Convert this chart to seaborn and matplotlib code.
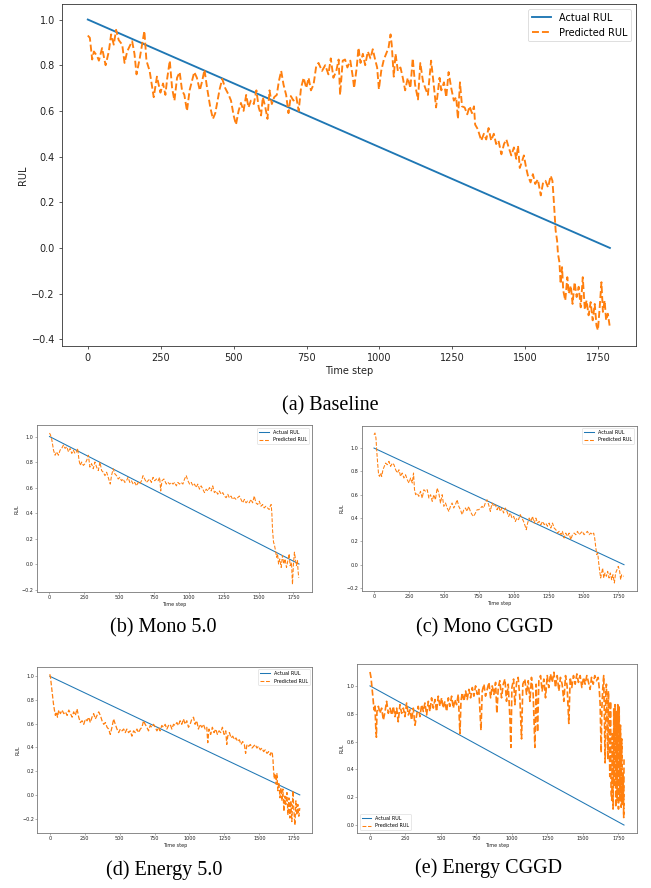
import matplotlib
matplotlib.use("Agg")
import matplotlib.pyplot as plt
from matplotlib.ticker import MultipleLocator
import seaborn as sns

# Actual RUL (straight line 1 -> 0)
actual_t = [0, 1790]
actual_rul = [1.0, 0.0]

# (a) Baseline
t_base = [0,7,15,21,32,38,49,61,72,80,89,97,106,118,126,135,146,152,160,167,178,186,194,201,212,226,237,249,258,266,
          272,281,289,297,306,315,323,331,340,349,357,365,374,384,392,400,409,420,429,437,445,452,461,471,483,491,500,508,517,525,
          534,543,551,559,569,578,586,594,600,608,616,623,631,639,648,655,663,671,680,688,696,705,715,723,731,740,749,757,765,774,
          783,791,803,814,825,833,842,852,860,865,874,882,890,900,909,913,922,928,
          935,943,951,960,969,977,985,992,998,1006,1015,1023,1031,1038,1042,1049,1055,1063,1072,1080,1088,1097,1106,1114,1122,1132,
          1140,1149,1157,1166,1177,1186,1194,1206,1212,1221,1229,1237,1246,1255,1263,1269,1276,1283,1292,1301,1309,1317,1324,1328,
          1337,1349,1358,1366,1374,1383,1392,1400,1408,1418,1427,1435,1443,1452,1461,1469,1475,1481,1489,1495,1503,1509,1518,1526,
          1534,1543,1553,1561,1569,1578,1587,1593,1597,1601,1604,1609,1612,1617,1621,1626,1630,1637,1644,1649,1656,1662,1669,1676,
          1683,1690,1697,1704,1710,1717,1724,1731,1738,1744,1749,1755,1761,1766,1772,1777,1783,1789]
pred_base = [0.93,0.92,0.825,0.86,0.84,0.82,0.875,0.80,0.86,0.935,0.89,0.955,0.91,0.89,0.81,0.86,0.89,0.905,0.85,0.76,
             0.83,0.89,0.95,0.82,0.775,0.66,0.75,0.68,0.72,0.67,0.74,0.82,0.70,0.645,0.745,0.77,0.69,0.67,0.60,0.69,
             0.73,0.77,0.745,0.69,0.73,0.78,0.70,0.615,0.565,0.59,0.645,0.695,0.74,0.70,0.67,0.645,0.58,0.54,0.60,0.635,
             0.60,0.67,0.615,0.645,0.63,0.69,0.615,0.58,0.66,0.62,0.565,0.69,0.63,0.66,0.67,0.73,0.775,0.715,0.67,0.59,
             0.665,0.645,0.66,0.60,0.70,0.745,0.70,0.745,0.69,0.715,0.795,0.81,0.775,0.80,0.76,0.83,0.745,0.775,0.825,0.67,
             0.82,0.825,0.79,0.82,0.745,0.70,0.79,0.876,
             0.81,0.85,0.80,0.86,0.83,0.87,0.825,0.79,0.695,0.775,0.825,0.85,0.876,0.935,0.89,0.75,0.85,0.775,0.79,0.745,
             0.69,0.745,0.70,0.83,0.715,0.65,0.81,0.73,0.70,0.67,0.82,0.715,0.615,0.745,0.69,0.725,0.66,0.77,0.70,0.645,
             0.66,0.565,0.725,0.62,0.615,0.585,0.62,0.59,0.62,0.54,0.52,0.47,0.50,0.475,0.525,0.47,0.50,0.455,0.47,0.41,
             0.455,0.475,0.44,0.405,0.44,0.39,0.447,0.35,0.38,0.405,0.35,0.316,0.287,0.323,0.28,0.30,0.23,0.287,0.294,0.265,
             0.316,0.294,0.22,0.134,0.076,0.032,-0.026,-0.063,-0.157,-0.084,-0.186,-0.23,-0.128,-0.20,-0.165,-0.245,-0.15,-0.215,-0.17,-0.26,
             -0.128,-0.27,-0.23,-0.295,-0.237,-0.317,-0.245,-0.34,-0.36,-0.26,-0.15,-0.28,-0.23,-0.317,-0.288,-0.34]

# (b) Mono 5.0
t_mono5 = [0,7,17,29,40,52,64,76,88,100,112,124,136,148,160,171,183,195,202,212,221,231,243,255,267,279,290,302,314,326,
           338,350,362,374,386,398,410,421,436,445,457,469,481,493,505,517,529,540,552,564,576,588,600,612,624,636,648,660,671,683,
           695,707,719,731,743,755,767,779,790,798,807,821,838,850,862,874,886,898,910,921,933,945,957,969,981,993,1005,1017,1029,1040,
           1052,1064,1076,1088,1100,1112,1124,1136,1148,1160,1171,1183,1195,1207,1219,1231,1243,1255,1267,1279,1290,1302,1314,1326,1338,1350,
           1362,1374,1386,1398,1410,1421,1433,1445,1457,1469,1481,1493,1505,1517,1529,1540,1552,1564,1576,1583,1590,1595,1600,1607,
           1614,1621,1629,1636,1643,1652,1662,1671,1681,1690,1700,1710,1719,1726,1736,1743,1750,1757,1764,1771,1779,1783,1788]
pred_mono5 = [1.027,1.013,0.973,0.893,0.853,0.88,0.853,0.893,0.907,0.933,0.907,0.92,0.88,0.907,0.867,0.893,0.867,0.88,0.907,0.813,
              0.773,0.80,0.773,0.787,0.813,0.853,0.76,0.787,0.747,0.80,0.76,0.733,0.80,0.733,0.72,0.693,0.72,0.68,0.627,0.693,
              0.747,0.707,0.693,0.667,0.68,0.653,0.667,0.64,0.653,0.68,0.64,0.653,0.627,0.64,0.613,0.64,0.627,0.653,0.693,0.667,
              0.64,0.653,0.667,0.64,0.68,0.653,0.667,0.653,0.68,0.573,0.653,0.667,0.627,0.64,0.627,0.64,0.627,0.64,0.613,0.64,
              0.627,0.64,0.627,0.667,0.693,0.653,0.627,0.64,0.613,0.627,0.60,0.627,0.587,0.613,0.587,0.56,0.587,0.573,0.60,0.573,
              0.613,0.56,0.573,0.547,0.573,0.547,0.56,0.533,0.52,0.547,0.52,0.533,0.507,0.52,0.507,0.52,0.533,0.507,0.48,0.507,
              0.48,0.493,0.48,0.507,0.48,0.533,0.48,0.467,0.493,0.453,0.467,0.44,0.453,0.44,0.427,0.453,0.467,0.40,0.267,0.173,
              0.147,0.107,0.053,0.08,0.0,0.04,-0.027,0.067,0.0,0.04,-0.027,0.027,0.08,-0.013,0.013,-0.16,0.0,0.093,0.04,-0.013,
              0.027,-0.053,-0.107]

# (c) Mono CGGD
t_monocg = [0,7,14,19,26,33,40,48,55,64,74,83,95,107,119,131,143,155,167,179,190,202,214,226,238,250,262,274,283,290,
            298,309,321,333,345,357,369,381,393,405,417,428,440,452,464,476,488,500,512,524,536,547,559,571,583,595,607,619,631,643,
            655,666,678,690,702,714,726,738,750,762,774,785,797,809,821,833,845,857,869,881,893,904,916,928,940,952,964,976,988,1000,
            1012,1023,1035,1047,1059,1071,1083,1090,1100,1111,1123,1135,1147,1159,1171,1183,1195,1207,1219,1230,1242,1254,1266,1278,1290,1302,
            1314,1326,1338,1349,1361,1373,1385,1397,1409,1421,1433,1445,1457,1468,1480,1492,1504,1516,1528,1540,1552,1564,1573,1580,
            1587,1595,1602,1609,1616,1623,1630,1637,1645,1654,1664,1673,1683,1692,1702,1711,1721,1730,1740,1749,1759,1766,1773,1787]
pred_monocg = [1.114,1.129,1.086,0.986,0.871,0.771,0.757,0.786,0.757,0.814,0.843,0.871,0.857,0.886,0.843,0.871,0.857,0.814,0.786,0.814,
               0.757,0.786,0.743,0.771,0.729,0.70,0.743,0.70,0.786,0.643,0.60,0.614,0.586,0.629,0.571,0.643,0.629,0.643,0.571,0.60,
               0.543,0.60,0.557,0.657,0.614,0.529,0.60,0.50,0.529,0.486,0.457,0.50,0.529,0.486,0.514,0.557,0.50,0.471,0.429,0.471,
               0.486,0.457,0.50,0.457,0.429,0.414,0.443,0.471,0.471,0.486,0.50,0.486,0.529,0.557,0.514,0.457,0.529,0.50,0.514,0.471,
               0.50,0.457,0.486,0.443,0.486,0.457,0.414,0.443,0.40,0.414,0.371,0.40,0.386,0.429,0.40,0.371,0.329,0.30,0.357,0.40,
               0.371,0.414,0.357,0.40,0.357,0.371,0.343,0.371,0.343,0.357,0.329,0.357,0.314,0.357,0.314,0.30,0.271,0.286,0.257,0.286,
               0.229,0.271,0.243,0.271,0.214,0.257,0.271,0.257,0.286,0.257,0.271,0.286,0.257,0.271,0.286,0.257,0.271,0.257,0.271,0.229,
               0.157,0.086,0.10,0.014,-0.057,-0.114,-0.071,-0.029,-0.114,-0.071,-0.10,-0.057,-0.114,-0.071,-0.129,-0.086,-0.157,-0.071,-0.043,-0.014,
               -0.057,-0.129,-0.086,-0.10]

# (d) Energy 5.0
t_energy5 = [0,5,12,19,26,33,40,48,55,64,76,88,100,112,124,136,148,160,171,183,195,207,219,231,243,255,267,279,290,302,
             314,326,338,350,362,374,386,398,410,421,433,445,457,469,481,493,505,517,529,540,552,564,576,588,600,612,624,636,648,660,
             671,683,695,707,719,731,743,755,767,779,790,802,814,826,838,850,862,874,886,898,910,921,933,945,957,969,981,993,1005,1017,
             1029,1040,1052,1064,1076,1088,1100,1112,1124,1131,1140,1152,1164,1176,1188,1200,1212,1224,1236,1248,1260,1267,1274,1286,1298,1310,
             1321,1333,1345,1357,1369,1381,1393,1402,1412,1424,1436,1448,1460,1471,1483,1495,1507,1519,1531,1543,1555,1567,1579,1586,
             1593,1598,1602,1607,1612,1617,1621,1626,1633,1640,1648,1655,1662,1669,1676,1683,1690,1698,1705,1712,1719,1726,1733,1741,
             1748,1755,1762,1769,1776,1783,1790]
pred_energy5 = [1.017,0.99,0.915,0.845,0.77,0.715,0.67,0.70,0.655,0.715,0.685,0.715,0.685,0.70,0.67,0.715,0.685,0.655,0.70,0.67,
                0.725,0.655,0.61,0.625,0.595,0.64,0.625,0.655,0.61,0.655,0.685,0.64,0.67,0.70,0.67,0.625,0.595,0.61,0.57,0.555,
                0.51,0.57,0.64,0.595,0.555,0.525,0.555,0.54,0.555,0.525,0.555,0.525,0.54,0.495,0.54,0.525,0.555,0.525,0.555,0.57,
                0.625,0.595,0.57,0.54,0.585,0.57,0.595,0.57,0.54,0.57,0.54,0.585,0.57,0.595,0.555,0.585,0.595,0.555,0.595,0.585,
                0.61,0.585,0.625,0.595,0.64,0.595,0.625,0.57,0.595,0.64,0.655,0.595,0.625,0.555,0.595,0.57,0.595,0.555,0.57,0.44,
                0.555,0.51,0.57,0.525,0.555,0.51,0.54,0.525,0.57,0.51,0.54,0.425,0.495,0.525,0.48,0.495,0.465,0.48,0.45,0.465,
                0.425,0.45,0.425,0.35,0.425,0.41,0.425,0.395,0.41,0.425,0.395,0.41,0.38,0.395,0.365,0.38,0.35,0.365,0.335,0.365,
                0.35,0.295,0.21,0.135,0.18,0.15,0.09,0.18,0.035,0.105,-0.025,0.06,-0.05,0.05,-0.14,-0.01,-0.08,0.02,-0.17,-0.025,
                -0.195,-0.05,-0.225,0.035,-0.14,-0.255,-0.05,-0.17,-0.08,-0.18,-0.11]

# (e) Energy CGGD
t_energycg = [0,7,14,21,28,35,40,45,49,59,70,82,94,106,117,129,141,153,164,176,188,199,211,223,235,246,258,270,282,293,
              305,317,329,340,352,364,376,387,399,411,422,434,446,458,469,481,493,505,516,528,540,552,563,575,587,599,610,622,634,641,
              650,662,674,685,697,709,721,732,744,756,767,782,791,803,814,826,838,850,861,873,885,894,904,915,927,939,951,962,974,986,
              993,1000,1012,1021,1033,1044,1056,1068,1077,1091,1103,1115,1127,1138,1150,1162,1171,1181,1190,1202,1213,1225,1237,1249,1260,1272,
              1284,1296,1307,1319,1331,1342,1354,1366,1378,1389,1401,1411,1422,1434,1446,1458,1469,1481,1493,1505,1516,1528,1540,1551,
              1561,1573,1584,1596,1608,1615,1622,1629,1634,1640,1647,1652,1657,1662,1666,1671,1676,1680,1685,1690,1695,1699,1704,1709,
              1713,1718,1723,1727,1732,1737,1742,1746,1751,1756,1760,1765,1770,1774,1779,1784,1788,1790]
pred_energycg = [1.10,1.06,0.99,0.914,0.828,0.865,0.717,0.631,0.816,0.853,0.803,0.84,0.754,0.816,0.889,0.803,0.84,0.79,0.853,0.779,
                 0.84,0.742,0.865,0.803,0.84,0.779,0.877,0.791,0.828,0.754,0.84,0.717,0.791,0.853,0.779,0.865,0.816,0.877,0.791,0.889,
                 0.816,0.914,0.84,0.902,0.816,0.926,0.853,0.914,0.84,0.889,0.816,0.914,0.853,0.926,0.84,0.902,0.865,0.939,0.656,0.889,
                 0.951,0.889,0.963,0.902,0.975,0.914,0.988,0.926,1.0,0.939,0.975,0.681,0.963,1.012,0.926,0.975,1.025,0.914,1.0,0.939,
                 1.025,0.803,0.988,1.037,0.914,1.012,1.049,0.889,1.012,0.767,0.558,0.988,1.049,0.865,1.025,1.061,0.914,0.619,1.012,1.049,
                 0.939,1.037,0.889,1.061,0.939,0.558,1.012,0.668,1.037,1.074,0.963,1.049,0.914,1.074,0.988,1.086,1.025,1.098,0.988,1.074,
                 0.963,1.061,1.012,0.889,1.074,1.0,0.73,1.061,0.988,1.074,1.012,1.086,1.025,1.074,0.988,1.061,1.012,1.074,1.025,0.975,
                 1.061,1.012,1.074,1.037,1.061,0.988,0.865,0.521,0.84,0.975,1.074,0.767,0.447,0.963,1.012,0.717,0.472,0.963,0.717,0.349,
                 0.889,0.226,0.177,0.668,0.115,0.84,0.275,0.865,0.128,0.816,0.177,0.865,0.115,0.853,0.177,0.717,0.128,0.619,0.152,0.373,
                 0.054,0.472]

captions = ["(a) Baseline", "(b) Mono 5.0", "(c) Mono CGGD", "(d) Energy 5.0", "(e) Energy CGGD"]


def draw_panel(ax, t, pred, s, lw, loc, spine_col, pred_lw=None):
    assert len(t) == len(pred), (len(t), len(pred))
    sns.lineplot(x=actual_t, y=actual_rul, color="#1f77b4", linewidth=lw,
                 label="Actual RUL", ax=ax, estimator=None, sort=False)
    sns.lineplot(x=t, y=pred, color="#ff7f0e", linestyle="--", linewidth=pred_lw or lw,
                 label="Predicted RUL", ax=ax, estimator=None, sort=False)
    ax.xaxis.set_major_locator(MultipleLocator(250))
    ax.yaxis.set_major_locator(MultipleLocator(0.2))
    ax.tick_params(labelsize=10 * s, length=3.5 * s, width=max(0.8 * s, 0.4), pad=3.5 * s,
                   color=spine_col, labelcolor="#222222")
    for sp in ax.spines.values():
        sp.set_linewidth(max(0.8 * s, 0.6))
        sp.set_edgecolor(spine_col)
    ax.set_xlabel("Time step", fontsize=10 * s, labelpad=4 * s, color="#222222")
    ax.set_ylabel("RUL", fontsize=10 * s, labelpad=4 * s, color="#222222")
    leg = ax.legend(loc=loc, fontsize=10 * s)
    leg.get_frame().set_linewidth(max(0.8 * s, 0.4))
    # keep the legend handle thin even if the line is thicker
    for h in leg.get_lines():
        h.set_linewidth(lw)


W, H = 651, 888
fig = plt.figure(figsize=(W / 100, H / 100), dpi=100)


def rect(left, right, top, bottom):
    return [left / W, 1 - bottom / H, (right - left) / W, (bottom - top) / H]


ax_a = fig.add_axes(rect(61.7, 636, 4, 345.7))
draw_panel(ax_a, t_base, pred_base, 0.7, 1.35, "upper right", "#333333")

ax_b = fig.add_axes(rect(37, 311.5, 425.5, 592))
draw_panel(ax_b, t_mono5, pred_mono5, 0.35, 0.75, "upper right", "#777777")

ax_c = fig.add_axes(rect(361.5, 636.5, 425.5, 590.5))
draw_panel(ax_c, t_monocg, pred_monocg, 0.35, 0.75, "upper right", "#777777")

ax_d = fig.add_axes(rect(37.3, 312.3, 666.7, 832.7))
draw_panel(ax_d, t_energy5, pred_energy5, 0.35, 0.75, "upper right", "#777777", pred_lw=0.9)

ax_e = fig.add_axes(rect(357.3, 636.7, 664.3, 832.7))
draw_panel(ax_e, t_energycg, pred_energycg, 0.35, 0.75, "lower left", "#777777", pred_lw=1.2)

cap_pos = [(330, 406), (163, 628), (484, 628), (164, 870), (488, 868)]
for txt, (cx, cy) in zip(captions, cap_pos):
    fig.text(cx / W, 1 - cy / H, txt, ha="center", va="center",
             fontsize=14.5, family=["Liberation Serif", "DejaVu Serif"])

fig.savefig("out.png", dpi=100)
